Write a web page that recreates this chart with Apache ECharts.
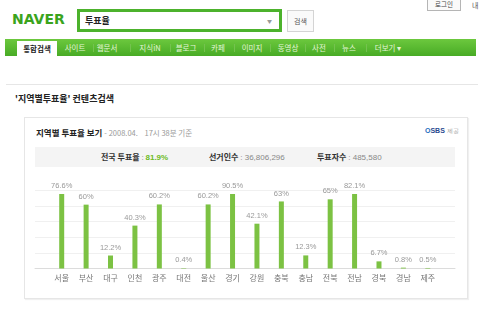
<!DOCTYPE html>
<html>
<head>
<meta charset="utf-8">
<script src="https://cdn.jsdelivr.net/npm/echarts@6/dist/echarts.min.js"></script>
<style>
html, body { margin: 0; padding: 0; width: 480px; height: 312px; overflow: hidden; background: #fff; }
body { position: relative; font-family: "Noto Sans CJK KR", "Noto Sans", sans-serif; }
.abs { position: absolute; white-space: nowrap; }
.logo { left: 12px; top: 11px; font: 900 14px "DejaVu Sans", sans-serif; color: #3aa41d; letter-spacing: 0; }
.search { left: 77px; top: 9px; width: 199px; height: 17px; border: 3px solid #4cb22c; }
.search .q { position: absolute; left: 5px; top: 2px; font-size: 9px; font-weight: bold; color: #222; }
.search .arr { position: absolute; right: 7px; top: 5px; font-size: 5px; color: #999; }
.btn { left: 287px; top: 10px; width: 25px; height: 20px; border: 1px solid #d4d4d4; background: #fafafa; font-size: 7px; color: #555; text-align: center; line-height: 20px; }
.login { left: 427px; top: -2px; width: 32px; height: 11px; border: 1px solid #b5b5b5; background: #fafafa; font-size: 6.5px; color: #444; text-align: center; line-height: 11px; }
.me { left: 472px; top: 0px; font-size: 7px; color: #555; }
.nav { left: 5px; top: 39px; width: 471px; height: 17px; background: linear-gradient(#6cc83e, #48ab25); }
.tab { left: 17px; top: 41px; width: 40px; height: 15px; background: #fff; font-size: 7.5px; font-weight: bold; color: #222; text-align: center; line-height: 15px; }
.item { top: 39px; height: 17px; line-height: 17px; font-size: 7.5px; color: #e4f5d8; transform: translateX(-50%); }
.sep { top: 44px; width: 1px; height: 8px; background: #74c24f; }
.rule { left: 6px; top: 84px; width: 472px; height: 1px; background: #e6e6e6; }
.heading { left: 15px; top: 92px; font-size: 9px; font-weight: bold; color: #222; }
.box { left: 24px; top: 117px; width: 442px; height: 180px; border: 1px solid #e6e6e6; box-shadow: 1px 1px 1px #f0f0f0; }
.title { left: 36px; top: 126px; font-size: 8.5px; font-weight: bold; color: #222; }
.title span { font-weight: normal; color: #999; font-size: 7.5px; }
.sbs { left: 425px; top: 127px; font: bold 7px "Liberation Sans", sans-serif; color: #2a4a8f; }
.sbs small { font-weight: normal; color: #999; font-size: 5.5px; }
.strip { left: 35px; top: 147px; width: 420px; height: 20px; background: #f4f4f4; }
.stat { top: 151px; font-size: 8px; color: #333; font-weight: bold; }
.stat span { font-weight: normal; color: #888; font-family: "Liberation Sans", sans-serif; }
.stat b { color: #6cbb24; font-family: "Liberation Sans", sans-serif; }
#chart { position: absolute; left: 0; top: 0; width: 480px; height: 312px; }
</style>
</head>
<body>
<div class="abs logo">NAVER</div>
<div class="abs search"><span class="q">투표율</span><span class="arr">▼</span></div>
<div class="abs btn">검색</div>
<div class="abs login">로그인</div>
<div class="abs me">내</div>
<div class="abs nav"></div>
<div class="abs tab">통합검색</div>
<div class="abs item" style="left:75px">사이트</div>
<div class="abs sep" style="left:93px"></div>
<div class="abs item" style="left:107px">웹문서</div>
<div class="abs sep" style="left:130px"></div>
<div class="abs item" style="left:150px">지식iN</div>
<div class="abs sep" style="left:170px"></div>
<div class="abs item" style="left:186px">블로그</div>
<div class="abs sep" style="left:204px"></div>
<div class="abs item" style="left:218px">카페</div>
<div class="abs sep" style="left:234px"></div>
<div class="abs item" style="left:252px">이미지</div>
<div class="abs sep" style="left:270px"></div>
<div class="abs item" style="left:288px">동영상</div>
<div class="abs sep" style="left:305px"></div>
<div class="abs item" style="left:319px">사전</div>
<div class="abs sep" style="left:334px"></div>
<div class="abs item" style="left:349px">뉴스</div>
<div class="abs sep" style="left:366px"></div>
<div class="abs item" style="left:388px">더보기 ▾</div>
<div class="abs rule"></div>
<div class="abs heading">'지역별투표율' 컨텐츠검색</div>
<div class="abs box"></div>
<div class="abs title">지역별 투표율 보기 <span>- 2008.04.&nbsp;&nbsp;&nbsp; 17시 38분 기준</span></div>
<div class="abs sbs"><span style="color:#1f6fc0">O</span>SBS <small>제공</small></div>
<div class="abs strip"></div>
<div class="abs stat" style="left:101px">전국 투표율 <span>:</span> <b>81.9%</b></div>
<div class="abs stat" style="left:209px">선거인수 <span>: 36,806,296</span></div>
<div class="abs stat" style="left:317px">투표자수 <span>: 485,580</span></div>
<div id="chart"></div>
<script>
// 지역별 투표율
const regions = ['서울', '부산', '대구', '인천', '광주', '대전', '울산', '경기', '강원', '충북', '충남', '전북', '전남', '경북', '경남', '제주'];
const turnout = [76.6, 60, 12.2, 40.3, 60.2, 0.4, 60.2, 90.5, 42.1, 63, 12.3, 65, 82.1, 6.7, 0.8, 0.5];
const barCap = 70; // 원본 그래프는 70% 이상을 잘라서 그림

const chart = echarts.init(document.getElementById('chart'), null, { renderer: 'canvas' });
chart.setOption({
    animation: false,
    grid: [
        { left: 49.5, right: 40, top: 194, bottom: 43.5 },
        { left: 35, right: 25, top: 190.5, bottom: 43.5 },
    ],
    xAxis: [
        {
            type: 'category',
            gridIndex: 0,
            data: regions,
            axisLine: { show: false },
            axisTick: { show: false },
            axisLabel: {
                margin: 5,
                fontSize: 8,
                color: '#777',
                fontFamily: 'Noto Sans CJK KR',
            },
        },
        {
            type: 'value',
            gridIndex: 1,
            show: true,
            axisLine: { show: true, onZero: false, lineStyle: { color: '#dcdcdc' } },
            axisTick: { show: false },
            axisLabel: { show: false },
            splitLine: { show: false },
        },
    ],
    yAxis: [
        {
            type: 'value',
            gridIndex: 0,
            min: 0,
            max: barCap,
            show: false,
            splitLine: { show: false },
        },
        {
            type: 'value',
            gridIndex: 1,
            min: 0,
            max: 5,
            interval: 1,
            axisLine: { show: false },
            axisTick: { show: false },
            axisLabel: { show: false },
            splitLine: { lineStyle: { color: '#f0f0f0' } },
        },
    ],
    series: [
        {
            type: 'bar',
            xAxisIndex: 0,
            yAxisIndex: 0,
            data: turnout,
            barWidth: 5,
            clip: true,
            itemStyle: { color: '#7cc243' },
            label: {
                show: true,
                position: 'top',
                distance: 4,
                formatter: '{c}%',
                fontSize: 7.5,
                color: '#999',
                fontFamily: 'Liberation Sans',
            },
        },
    ],
});
</script>
</body>
</html>
